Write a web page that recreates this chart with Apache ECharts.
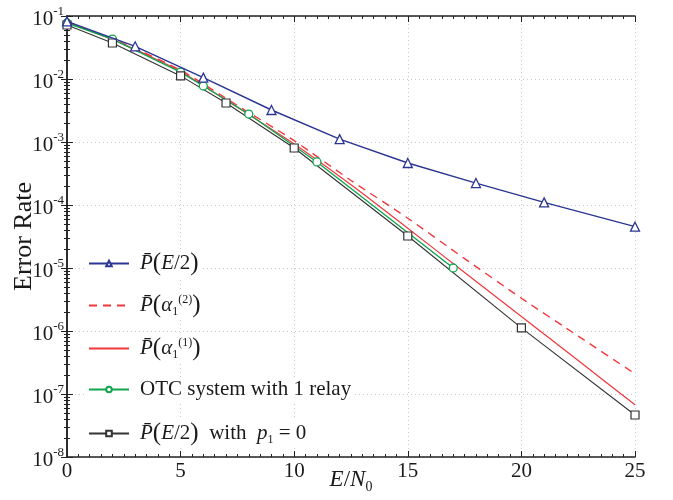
<!DOCTYPE html>
<html>
<head>
<meta charset="utf-8">
<script src="https://cdn.jsdelivr.net/npm/echarts@6/dist/echarts.min.js"></script>
<style>html,body{margin:0;padding:0;background:#fff}#c{width:673px;height:500px}</style>
</head>
<body>
<div id="c"></div>
<script>
// ---- data ----
const blueX = [0, 3, 6, 9, 12, 15, 18, 21, 25];
const blueY = [0.082, 0.033, 0.0105, 0.00322, 0.00111, 4.64e-4, 2.23e-4, 1.10e-4, 4.53e-5];

const redDashX = [0, 2.5, 5, 7.5, 10, 12.5, 15, 17.5, 20, 22.5, 25];
const redDashY = [0.0813, 0.0363, 0.0138, 0.0038, 1.05e-3, 2.45e-4, 6.17e-5, 1.41e-5, 3.31e-6, 8.3e-7, 2.09e-7];

const redSolidX = [0, 2.5, 5, 7.5, 10, 12.5, 15, 17.5, 20, 22.5, 25];
const redSolidY = [0.0794, 0.0355, 0.0132, 0.00355, 9.3e-4, 2.09e-4, 4.27e-5, 8.5e-6, 1.70e-6, 3.39e-7, 6.76e-8];

const greenX = [0, 2, 5, 6, 8, 11, 17];
const greenY = [0.0774, 0.0431, 0.0129, 0.00774, 0.00278, 4.82e-4, 1.0e-5];

const blackX = [0, 2, 5, 7, 10, 15, 20, 25];
const blackY = [0.072, 0.0373, 0.0112, 0.00416, 8.03e-4, 3.22e-5, 1.12e-6, 4.64e-8];

const seriesNames = ['PE2', 'Pa2', 'Pa1', 'OTC', 'PE2p0'];

// ---- helpers ----
const zip = (xs, ys) => xs.map((x, i) => [x, ys[i]]);
const SERIF = '"Liberation Serif", "DejaVu Serif", serif';
const TXT = '#1a1a1a';

const legendRich = {
  n: { fontFamily: SERIF, fontSize: 21, color: TXT },
  i: { fontFamily: SERIF, fontSize: 21, fontStyle: 'italic', color: TXT },
  b: { fontFamily: SERIF, fontSize: 25, color: TXT },
  sub: { fontFamily: SERIF, fontSize: 12, color: TXT, padding: [12, 0, 0, 0] },
  sup: { fontFamily: SERIF, fontSize: 12, color: TXT, padding: [0, 0, 12, 0] }
};
const legendText = {
  PE2: '{i|P\u0304}{b|(}{i|E}{n|/2}{b|)}',
  Pa2: '{i|P\u0304}{b|(}{i|\u03b1}{sub|1}{sup|(2)}{b|)}',
  Pa1: '{i|P\u0304}{b|(}{i|\u03b1}{sub|1}{sup|(1)}{b|)}',
  OTC: '{n|OTC system with 1 relay}',
  PE2p0: '{i|P\u0304}{b|(}{i|E}{n|/2}{b|)}{n|  with  }{i|p}{sub|1}{n| = 0}'
};
const legendTops = [249, 291, 334, 377, 419];
const legendNoSymbol = { Pa2: true, Pa1: true };

const legends = seriesNames.map((nm, k) => ({
  data: [nm],
  left: 84,
  top: legendTops[k],
  orient: 'vertical',
  itemWidth: 40,
  itemHeight: 7,
  backgroundColor: '#fff',
  padding: [2, 4, 2, 4],
  itemStyle: legendNoSymbol[nm] ? { opacity: 0 } : {},
  formatter: name => legendText[name],
  textStyle: { rich: legendRich, padding: [0, 0, 0, 6] }
}));

const supLabel = v => {
  const e = Math.round(Math.log10(v));
  return '{b|10}{s|' + e + '}';
};

const chart = echarts.init(document.getElementById('c'), null, { renderer: 'canvas' });
chart.setOption({
  animation: false,
  backgroundColor: '#fff',
  grid: { left: 67, right: 38, top: 16, bottom: 43, containLabel: false, outerBoundsMode: 'none' },
  legend: legends,
  xAxis: [{
    type: 'value', min: 0, max: 25, interval: 5,
    name: '{i|E}{n|/}{i|N}{s|0}',
    nameLocation: 'middle', nameGap: 9, nameMoveOverlap: false,
    nameTextStyle: {
      rich: {
        i: { fontFamily: SERIF, fontSize: 23, fontStyle: 'italic', color: TXT },
        n: { fontFamily: SERIF, fontSize: 23, color: TXT },
        s: { fontFamily: SERIF, fontSize: 14, color: TXT, padding: [14, 0, 0, 0] }
      }
    },
    axisLine: { lineStyle: { color: '#222', width: 1.5 } },
    axisTick: { inside: true, length: 6, lineStyle: { color: '#222' } },
    minorTick: { show: true, splitNumber: 10, length: 3, lineStyle: { color: '#222' } },
    axisLabel: { fontFamily: SERIF, fontSize: 21, color: TXT, margin: 4 },
    splitLine: { show: true, lineStyle: { color: '#c8c8c8', type: [1, 3], width: 1 } }
  }, {
    type: 'value', min: 0, max: 25, interval: 5, position: 'top',
    axisLine: { lineStyle: { color: '#222', width: 1.5 } },
    axisTick: { inside: true, length: 6, lineStyle: { color: '#222' } },
    minorTick: { show: true, splitNumber: 10, length: 3, lineStyle: { color: '#222' } },
    axisLabel: { show: false },
    splitLine: { show: false }
  }],
  yAxis: [{
    type: 'log', logBase: 10, min: 1e-8, max: 1e-1, interval: 1,
    name: 'Error Rate',
    nameLocation: 'middle', nameGap: 30, nameMoveOverlap: false,
    nameTextStyle: { fontFamily: SERIF, fontSize: 26, color: TXT },
    axisLine: { show: true, lineStyle: { color: '#222', width: 1.5 } },
    axisTick: { show: true, inside: true, length: 6, lineStyle: { color: '#222' } },
    minorTick: { show: true, splitNumber: 9, length: 3, lineStyle: { color: '#222' } },
    axisLabel: {
      margin: 3,
      formatter: supLabel,
      rich: {
        b: { fontFamily: SERIF, fontSize: 21, color: TXT, padding: [6, 0, 0, 0] },
        s: { fontFamily: SERIF, fontSize: 13, color: TXT, padding: [0, 0, 8, 0] }
      }
    },
    splitLine: { show: true, lineStyle: { color: '#c8c8c8', type: [1, 3], width: 1 } }
  }, {
    type: 'log', logBase: 10, min: 1e-8, max: 1e-1, interval: 1, position: 'right',
    axisLine: { show: true, lineStyle: { color: '#222', width: 1.5 } },
    axisTick: { show: true, inside: true, length: 6, lineStyle: { color: '#222' } },
    minorTick: { show: true, splitNumber: 9, length: 3, lineStyle: { color: '#222' } },
    axisLabel: { show: false },
    splitLine: { show: false }
  }],
  series: [{
    name: 'PE2', type: 'line', data: zip(blueX, blueY),
    symbol: 'triangle', symbolSize: 9,
    itemStyle: { color: '#fff', borderColor: '#2b3693', borderWidth: 1.3 },
    lineStyle: { color: '#2b3693', width: 1.4 }, z: 5
  }, {
    name: 'Pa2', type: 'line', data: zip(redDashX, redDashY), smooth: 0.2,
    symbol: 'none', itemStyle: { color: '#f0373c' },
    lineStyle: { color: '#f0373c', width: 1.4, type: [8, 6] }
  }, {
    name: 'Pa1', type: 'line', data: zip(redSolidX, redSolidY), smooth: 0.2,
    symbol: 'none', itemStyle: { color: '#f0373c' },
    lineStyle: { color: '#f0373c', width: 1.2 }
  }, {
    name: 'OTC', type: 'line', data: zip(greenX, greenY),
    symbol: 'circle', symbolSize: 8,
    itemStyle: { color: '#fff', borderColor: '#12a550', borderWidth: 1.3 },
    lineStyle: { color: '#12a550', width: 1.4 }, z: 4
  }, {
    name: 'PE2p0', type: 'line', data: zip(blackX, blackY),
    symbol: 'rect', symbolSize: 8,
    itemStyle: { color: '#fff', borderColor: '#333', borderWidth: 1.2 },
    lineStyle: { color: '#333', width: 1.1 }, z: 4
  }]
});
</script>
</body>
</html>
